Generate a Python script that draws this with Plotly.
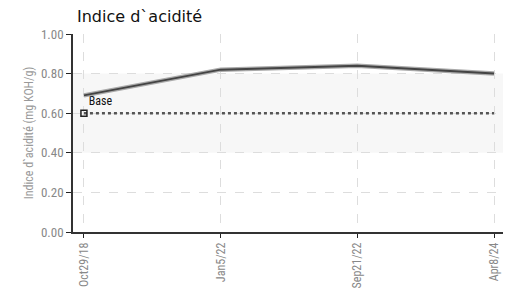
import plotly.graph_objects as go

dates = ["Oct29/18", "Jan5/22", "Sep21/22", "Apr8/24"]
values = [0.69, 0.82, 0.84, 0.80]
base_values = [0.60, 0.60, 0.60, 0.60]
band_low, band_high = 0.40, 0.80
y_ticks = [0.0, 0.2, 0.4, 0.6, 0.8, 1.0]

xi = list(range(len(dates)))
narrow = "Liberation Sans Narrow, Arial Narrow, Roboto Condensed, Roboto, sans-serif"

W, H = 503, 288  # page body has an 8px margin

fig = go.Figure()
fig.add_shape(type="rect", xref="paper", x0=0, x1=1, yref="y", y0=band_low, y1=band_high,
              fillcolor="#f7f7f7", line_width=0, layer="below")
fig.add_trace(go.Scatter(x=xi, y=base_values, mode="lines",
                         line=dict(color="#555555", width=2.5, dash="dot"), hoverinfo="skip"))
fig.add_trace(go.Scatter(x=[xi[0]], y=[base_values[0]], mode="markers+text",
                         marker=dict(symbol="square-open", size=6, color="#222222", line=dict(width=1.5)),
                         text=["Base"], textposition="top right",
                         textfont=dict(family=narrow, size=12, color="#111111")))
fig.add_trace(go.Scatter(x=xi, y=values, mode="lines",
                         line=dict(color="#aaaaaa", width=4.5)))
fig.add_trace(go.Scatter(x=xi, y=values, mode="lines",
                         line=dict(color="#444444", width=2)))

fig.update_layout(
    width=W, height=H,
    margin=dict(l=65, r=6, t=26, b=64),
    paper_bgcolor="white", plot_bgcolor="white",
    showlegend=False,
    title=dict(text="Indice d`acidité", x=69/W, xanchor="left",
               yref="container", y=1, yanchor="top", pad=dict(t=3),
               font=dict(family="DejaVu Sans", size=16, color="#111111")),
    xaxis=dict(range=[-0.08, 3.08], tickmode="array", tickvals=xi, ticktext=dates,
               tickangle=-90, showgrid=True, gridcolor="#dddddd", griddash="dash",
               showline=True, linecolor="#333333", linewidth=1.5, automargin=False,
               ticks="outside", ticklen=4, tickcolor="#222222", zeroline=False,
               tickfont=dict(family=narrow, size=12, color="#888888")),
    yaxis=dict(range=[0, 1.0], tickmode="array", tickvals=y_ticks,
               ticktext=[f"{v:.2f}" for v in y_ticks], automargin=False,
               showgrid=True, gridcolor="#dddddd", griddash="dash",
               showline=True, linecolor="#333333", linewidth=1.5,
               ticks="outside", ticklen=5, tickcolor="#222222", zeroline=False,
               tickfont=dict(family=narrow, size=13, color="#888888"),
               title=dict(text="Indice d`acidité (mg KOH/g)", standoff=5,
                          font=dict(family=narrow, size=12, color="#999999"))),
)
fig.write_html("out.html")
